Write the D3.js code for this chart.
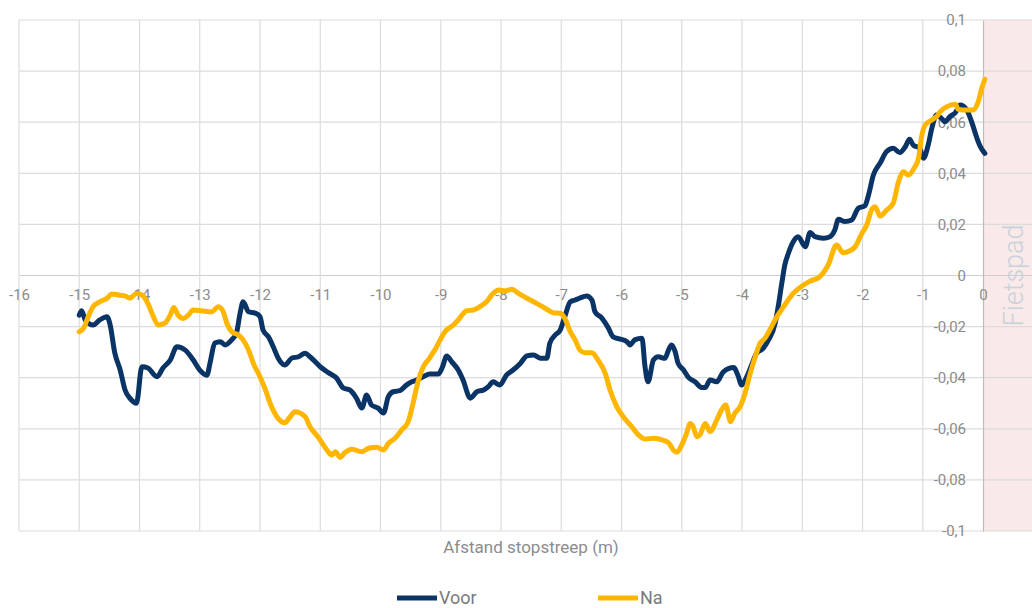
<!DOCTYPE html>
<html><head><meta charset="utf-8">
<script src="https://cdn.jsdelivr.net/npm/d3@7"></script>
<style>body{margin:0;background:#fff}svg{display:block}text{font-family:Roboto,"Open Sans",sans-serif}</style>
</head><body><svg id="c" width="1032" height="608"></svg>
<script>
const xTicks = [-16,-15,-14,-13,-12,-11,-10,-9,-8,-7,-6,-5,-4,-3,-2,-1,0];
const yTicks = [-0.1,-0.08,-0.06,-0.04,-0.02,0,0.02,0.04,0.06,0.08,0.1];
const seriesNames = ["Voor","Na"];
const seriesColors = ["#0b3466","#ffb600"];
const voorX = [-15.0,-14.96,-14.90,-14.77,-14.66,-14.54,-14.49,-14.41,-14.32,-14.24,-14.16,-14.05,-13.96,-13.86,-13.71,-13.61,-13.49,-13.38,-13.24,-13.11,-13.00,-12.88,-12.83,-12.75,-12.66,-12.58,-12.47,-12.39,-12.33,-12.28,-12.19,-12.08,-12.00,-11.95,-11.86,-11.78,-11.70,-11.59,-11.47,-11.36,-11.25,-11.17,-11.00,-10.86,-10.73,-10.62,-10.51,-10.40,-10.31,-10.23,-10.15,-10.04,-9.95,-9.87,-9.79,-9.68,-9.57,-9.48,-9.40,-9.29,-9.18,-9.04,-8.98,-8.90,-8.82,-8.71,-8.63,-8.51,-8.40,-8.29,-8.21,-8.13,-8.02,-7.91,-7.80,-7.68,-7.57,-7.46,-7.35,-7.24,-7.19,-7.10,-7.02,-6.94,-6.85,-6.77,-6.69,-6.58,-6.49,-6.44,-6.33,-6.22,-6.14,-6.02,-5.91,-5.86,-5.78,-5.66,-5.61,-5.56,-5.47,-5.39,-5.28,-5.22,-5.17,-5.11,-5.06,-4.97,-4.89,-4.78,-4.67,-4.61,-4.53,-4.42,-4.31,-4.14,-4.06,-4.01,-3.92,-3.84,-3.76,-3.65,-3.56,-3.45,-3.40,-3.34,-3.29,-3.23,-3.15,-3.07,-2.95,-2.87,-2.79,-2.65,-2.54,-2.46,-2.40,-2.29,-2.18,-2.07,-1.96,-1.90,-1.82,-1.71,-1.60,-1.49,-1.38,-1.29,-1.22,-1.16,-1.05,-0.99,-0.91,-0.85,-0.77,-0.69,-0.63,-0.55,-0.46,-0.38,-0.27,-0.19,-0.10,-0.05,0.03];
const voorY = [-0.0155,-0.0138,-0.0174,-0.0194,-0.0174,-0.0161,-0.019,-0.0303,-0.037,-0.0448,-0.048,-0.050,-0.0357,-0.0362,-0.0396,-0.0362,-0.0331,-0.0279,-0.0292,-0.033,-0.037,-0.039,-0.0343,-0.0264,-0.0259,-0.0272,-0.0252,-0.0225,-0.0147,-0.0103,-0.0142,-0.0147,-0.0161,-0.0213,-0.024,-0.0279,-0.0323,-0.035,-0.0323,-0.0318,-0.0304,-0.0318,-0.0357,-0.0381,-0.0401,-0.044,-0.0448,-0.048,-0.0519,-0.0468,-0.0507,-0.0519,-0.0538,-0.0474,-0.0455,-0.0451,-0.0429,-0.0416,-0.0409,-0.0396,-0.0386,-0.0386,-0.0363,-0.0315,-0.0337,-0.037,-0.0409,-0.048,-0.0455,-0.0448,-0.0435,-0.0416,-0.0429,-0.039,-0.037,-0.0344,-0.0315,-0.0311,-0.0324,-0.0324,-0.0265,-0.0233,-0.0215,-0.016,-0.0103,-0.0096,-0.0088,-0.008,-0.0096,-0.0142,-0.0166,-0.0205,-0.024,-0.0249,-0.0259,-0.0272,-0.0252,-0.0246,-0.0357,-0.0416,-0.0331,-0.0318,-0.0324,-0.0292,-0.0272,-0.0298,-0.0344,-0.037,-0.0399,-0.0416,-0.0438,-0.0438,-0.0409,-0.0416,-0.0377,-0.036,-0.0396,-0.0429,-0.0396,-0.035,-0.0305,-0.0285,-0.0252,-0.0187,-0.0122,-0.0031,0.0041,0.0087,0.0132,0.0152,0.0113,0.0168,0.0152,0.0146,0.0152,0.0178,0.022,0.0211,0.0217,0.0263,0.0273,0.0315,0.0393,0.0439,0.0485,0.0498,0.0481,0.0504,0.0533,0.0511,0.0498,0.0459,0.0511,0.0576,0.0628,0.0615,0.0602,0.0622,0.0637,0.0667,0.0648,0.0602,0.0537,0.0507,0.0478];
const naX = [-15.0,-14.93,-14.85,-14.77,-14.66,-14.54,-14.46,-14.35,-14.24,-14.16,-14.05,-13.96,-13.85,-13.77,-13.69,-13.58,-13.49,-13.43,-13.36,-13.27,-13.19,-13.11,-12.97,-12.80,-12.69,-12.61,-12.55,-12.47,-12.36,-12.28,-12.19,-12.11,-12.00,-11.92,-11.81,-11.70,-11.59,-11.50,-11.42,-11.25,-11.17,-11.03,-10.89,-10.81,-10.75,-10.67,-10.59,-10.48,-10.31,-10.20,-10.06,-9.95,-9.87,-9.76,-9.65,-9.54,-9.46,-9.37,-9.29,-9.21,-9.10,-9.01,-8.93,-8.79,-8.71,-8.57,-8.46,-8.35,-8.24,-8.13,-8.04,-7.93,-7.82,-7.71,-7.57,-7.41,-7.27,-7.13,-7.02,-6.94,-6.85,-6.77,-6.69,-6.61,-6.49,-6.39,-6.27,-6.19,-6.08,-5.97,-5.83,-5.72,-5.61,-5.47,-5.36,-5.22,-5.14,-5.08,-5.00,-4.92,-4.86,-4.81,-4.75,-4.70,-4.61,-4.53,-4.42,-4.34,-4.27,-4.19,-4.12,-4.03,-3.95,-3.87,-3.78,-3.70,-3.62,-3.54,-3.42,-3.31,-3.15,-2.98,-2.87,-2.71,-2.57,-2.43,-2.32,-2.21,-2.12,-2.01,-1.93,-1.85,-1.79,-1.71,-1.60,-1.49,-1.41,-1.32,-1.24,-1.13,-1.07,-1.02,-0.96,-0.85,-0.77,-0.71,-0.60,-0.46,-0.41,-0.33,-0.16,-0.08,-0.02,0.03];
const naY = [-0.022,-0.0207,-0.0161,-0.0122,-0.0103,-0.0089,-0.0072,-0.0076,-0.008,-0.0089,-0.007,-0.0076,-0.0115,-0.0161,-0.0194,-0.0187,-0.0155,-0.0125,-0.0155,-0.0168,-0.0155,-0.0135,-0.0138,-0.0142,-0.0122,-0.0142,-0.0187,-0.022,-0.0233,-0.0252,-0.0292,-0.0344,-0.0396,-0.0441,-0.0513,-0.0559,-0.0576,-0.0553,-0.0533,-0.0553,-0.0592,-0.0634,-0.0683,-0.0703,-0.069,-0.0712,-0.0693,-0.068,-0.069,-0.0676,-0.0672,-0.0683,-0.0657,-0.0637,-0.0605,-0.0572,-0.05,-0.0409,-0.0357,-0.0331,-0.0292,-0.0252,-0.022,-0.0194,-0.0174,-0.0138,-0.0135,-0.0122,-0.0103,-0.007,-0.0057,-0.006,-0.0054,-0.007,-0.0089,-0.0109,-0.0128,-0.0146,-0.0148,-0.0168,-0.022,-0.0252,-0.0292,-0.0302,-0.0302,-0.0331,-0.0383,-0.0448,-0.0513,-0.0553,-0.0592,-0.0624,-0.064,-0.0637,-0.0641,-0.0654,-0.0683,-0.0692,-0.0663,-0.0618,-0.0579,-0.0592,-0.0631,-0.0624,-0.0579,-0.0611,-0.0566,-0.0526,-0.0507,-0.0572,-0.0539,-0.0513,-0.0461,-0.0389,-0.0318,-0.0265,-0.0246,-0.0213,-0.0161,-0.0122,-0.007,-0.0037,-0.0022,-0.0005,0.0041,0.0119,0.0089,0.0097,0.0113,0.0165,0.0198,0.0256,0.0269,0.0233,0.0256,0.0283,0.0361,0.0406,0.0393,0.0426,0.0459,0.0543,0.0589,0.0609,0.0622,0.0641,0.0661,0.067,0.065,0.0648,0.0648,0.068,0.0733,0.0768];
const zoneLabel = "Fietspad";
const xTitle = "Afstand stopstreep (m)";

const svg = d3.select("#c");
const x = d3.scaleLinear().domain([-16, 0.813]).range([19, 1032]);
const y = d3.scaleLinear().domain([-0.1, 0.1]).range([531, 20]);
const fmt = v => String(+v.toFixed(2)).replace(".", ",");

// pink zone
svg.append("rect").attr("x", x(0)).attr("y", y(0.1)).attr("width", x(0.813)-x(0)).attr("height", y(-0.1)-y(0.1)).attr("fill", "#f9e9e9");

// grid
svg.append("g").selectAll("line").data(yTicks).join("line")
  .attr("x1", x(-16)).attr("x2", 1032).attr("y1", d=>y(d)).attr("y2", d=>y(d))
  .attr("stroke", d=> d===0 ? "#cfcfcf" : "#dcdcdc").attr("stroke-width", 1.2);
svg.append("g").selectAll("line").data(xTicks.filter(d=>d!==0)).join("line")
  .attr("x1", d=>x(d)).attr("x2", d=>x(d)).attr("y1", y(0.1)).attr("y2", y(-0.1))
  .attr("stroke", "#dcdcdc").attr("stroke-width", 1.2);

// y axis at x=0
const yAxis = d3.axisLeft(y).tickValues(yTicks).tickFormat(fmt).tickSize(0).tickPadding(17);
const gy = svg.append("g").attr("transform", `translate(${x(0)},0)`).call(yAxis);
gy.select(".domain").attr("stroke", "#bdbdbd").attr("stroke-width", 1.2);
gy.selectAll("text").attr("fill", "#8c8c8c").attr("font-size", 15);

// x axis labels at y=0
const xAxis = d3.axisBottom(x).tickValues(xTicks).tickFormat(d=>String(d)).tickSize(0).tickPadding(14);
const gx = svg.append("g").attr("transform", `translate(0,${y(0)})`).call(xAxis);
gx.select(".domain").remove();
gx.selectAll("text").attr("fill", "#8c8c8c").attr("font-size", 15);

// zone label
svg.append("text").attr("transform", `translate(${x(0)+40},${y(0)}) rotate(-90)`)
  .attr("text-anchor", "middle").attr("font-size", 27).attr("font-weight", 300)
  .attr("fill", "#c8d2da").text(zoneLabel);

// lines
const line = d3.line().x(d=>x(d[0])).y(d=>y(d[1])).curve(d3.curveMonotoneX);
const data = [d3.zip(voorX, voorY), d3.zip(naX, naY)];
svg.append("g").selectAll("path").data(data).join("path")
  .attr("d", line).attr("fill", "none")
  .attr("stroke", (d,i)=>seriesColors[i]).attr("stroke-width", 5)
  .attr("stroke-linejoin", "round").attr("stroke-linecap", "round");

// x title
svg.append("text").attr("x", 531).attr("y", 553).attr("text-anchor", "middle")
  .attr("font-size", 17).attr("fill", "#8c8c8c").text(xTitle);

// legend
const legX = [397, 598];
seriesNames.forEach((n,i)=>{
  svg.append("line").attr("x1", legX[i]).attr("x2", legX[i]+40).attr("y1", 598).attr("y2", 598)
    .attr("stroke", seriesColors[i]).attr("stroke-width", 5);
  svg.append("text").attr("x", legX[i]+42).attr("y", 604).attr("font-size", 18)
    .attr("fill", "#7a7a7a").text(n);
});
</script></body></html>
